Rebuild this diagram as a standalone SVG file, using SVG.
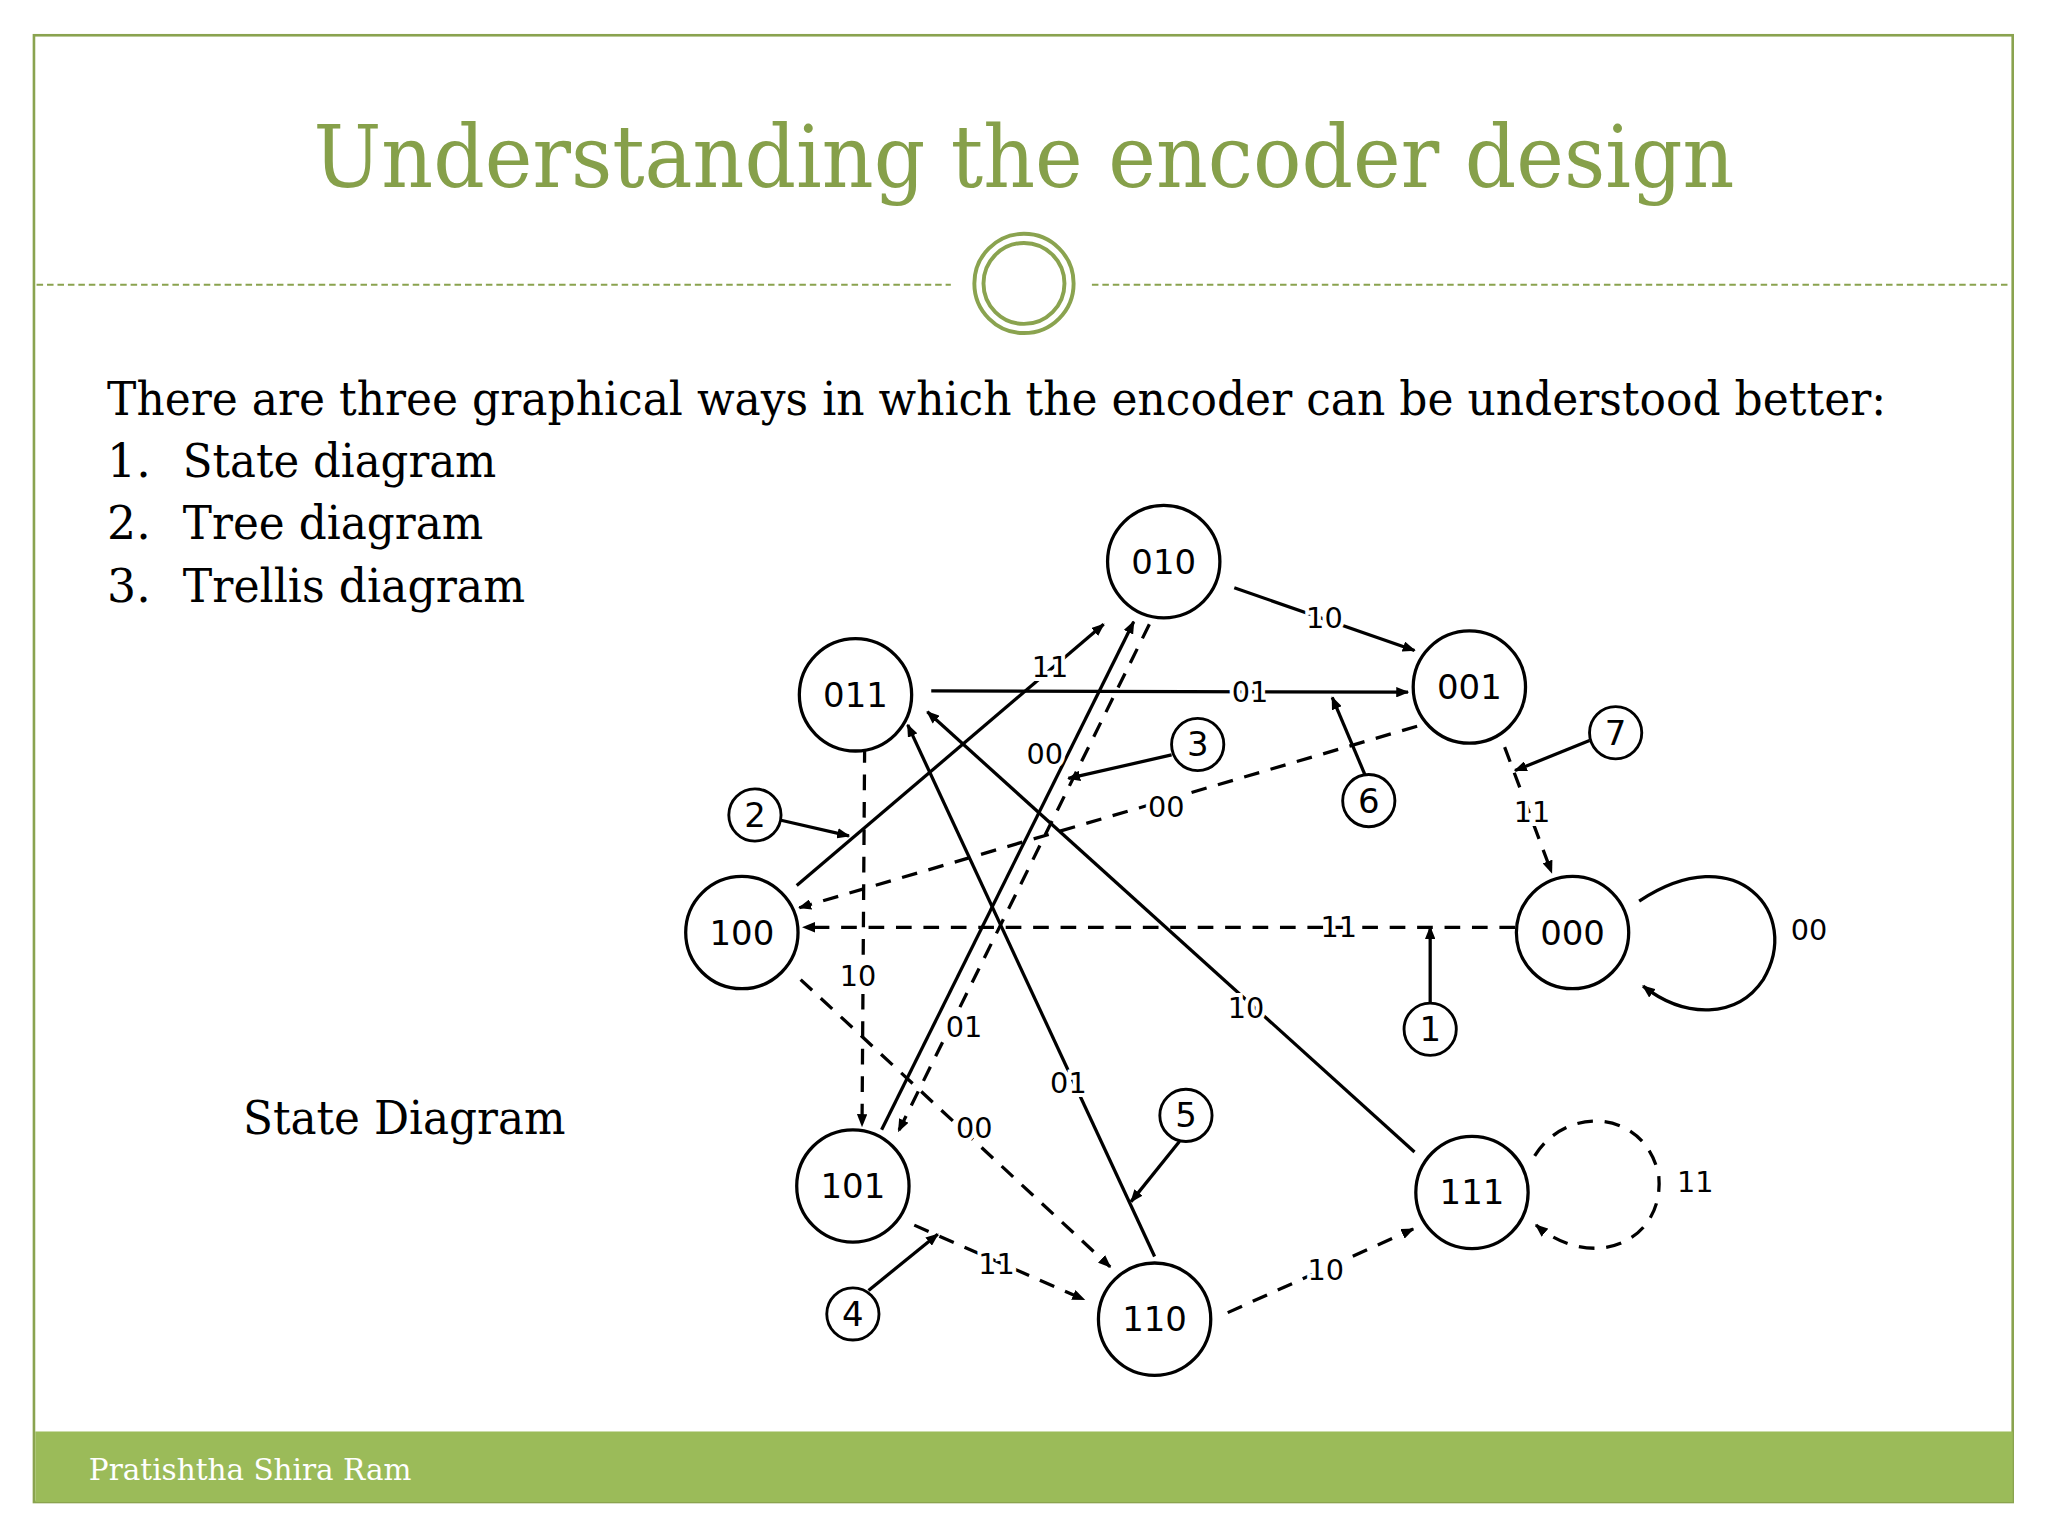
<svg xmlns="http://www.w3.org/2000/svg" width="2048" height="1536" viewBox="0 0 2048 1536">
<defs>
<marker id="ah" markerWidth="10" markerHeight="8" refX="9" refY="4" orient="auto" markerUnits="userSpaceOnUse"><path d="M0,0 L10,4 L0,8 Z" fill="#000"/></marker>
<style>
.n circle{fill:#fff;stroke:#000;stroke-width:2.5}
.n text{font-family:"DejaVu Sans",sans-serif;font-size:26px;text-anchor:middle;dominant-baseline:central}
.m circle{fill:#fff;stroke:#000;stroke-width:2.2}
.m text{font-family:"DejaVu Sans",sans-serif;font-size:26px;text-anchor:middle;dominant-baseline:central}
.e{stroke:#000;stroke-width:2.5;fill:none;marker-end:url(#ah)}
.d{stroke-dasharray:12 9}
.l{font-family:"DejaVu Sans",sans-serif;font-size:22px;text-anchor:middle;dominant-baseline:central;fill:#000;stroke:#fff;stroke-width:6;paint-order:stroke}
.s{font-family:"DejaVu Serif",serif;fill:#000;font-size:35px}
</style>
</defs>
<rect width="2048" height="1536" fill="#fff"/>
<g transform="scale(1.3061)">
<rect x="26" y="27" width="1515" height="1123" fill="none" stroke="#8aa34f" stroke-width="2"/>
<text x="240" y="143" textLength="1088" lengthAdjust="spacingAndGlyphs" font-family="DejaVu Serif,serif" font-size="66" fill="#86a04a">Understanding the encoder design</text>
<line x1="28" y1="218" x2="728" y2="218" stroke="#8aa34f" stroke-width="1.5" stroke-dasharray="5 3"/>
<line x1="836" y1="218" x2="1540" y2="218" stroke="#8aa34f" stroke-width="1.5" stroke-dasharray="5 3"/>
<circle cx="784" cy="217" r="38" fill="none" stroke="#8aa34f" stroke-width="3"/>
<circle cx="784" cy="217" r="31" fill="none" stroke="#8aa34f" stroke-width="3"/>
<text class="s" x="82" y="318" textLength="1362" lengthAdjust="spacingAndGlyphs">There are three graphical ways in which the encoder can be  understood better:</text>
<text class="s" x="82" y="365">1.</text><text class="s" x="140" y="365" textLength="240" lengthAdjust="spacingAndGlyphs">State diagram</text>
<text class="s" x="82" y="413">2.</text><text class="s" x="140" y="413" textLength="230" lengthAdjust="spacingAndGlyphs">Tree diagram</text>
<text class="s" x="82" y="461">3.</text><text class="s" x="140" y="461" textLength="262" lengthAdjust="spacingAndGlyphs">Trellis diagram</text>
<text class="s" x="186" y="868" textLength="247" lengthAdjust="spacingAndGlyphs">State Diagram</text>
<rect x="27" y="1096" width="1514" height="54" fill="#9bbb59"/>
<text x="68" y="1133" textLength="247" lengthAdjust="spacingAndGlyphs" font-family="DejaVu Serif,serif" font-size="23" fill="#fff">Pratishtha Shira Ram</text>

<g id="connectors">
<line class="e" x1="945" y1="450" x2="1083" y2="498"/>
<line class="e" x1="713" y1="529" x2="1078" y2="530"/>
<line class="e" x1="610" y1="678" x2="845" y2="478"/>
<line class="e" x1="675" y1="865" x2="868" y2="476"/>
<line class="e d" x1="880" y1="478" x2="688" y2="866"/>
<line class="e d" x1="1085" y1="556" x2="612" y2="695"/>
<line class="e d" x1="662" y1="572" x2="660" y2="862"/>
<line class="e d" x1="1160" y1="710" x2="615" y2="710"/>
<line class="e d" x1="1152" y1="572" x2="1188" y2="668"/>
<path class="e" d="M1255,690 C1330,640 1380,700 1350,750 C1330,780 1290,780 1258,755"/>
<line class="e" x1="884" y1="962" x2="695" y2="555"/>
<line class="e" x1="1083" y1="882" x2="710" y2="545"/>
<line class="e d" x1="613" y1="750" x2="850" y2="970"/>
<line class="e d" x1="700" y1="938" x2="830" y2="995"/>
<line class="e d" x1="940" y1="1005" x2="1082" y2="941"/>
<path class="e d" d="M1175,885 C1200,845 1260,850 1270,900 C1275,950 1220,975 1176,938"/>
<line class="e" x1="598" y1="628" x2="650" y2="640"/>
<line class="e" x1="897" y1="578" x2="818" y2="596"/>
<line class="e" x1="1045" y1="593" x2="1020" y2="534"/>
<line class="e" x1="1217" y1="567" x2="1160" y2="590"/>
<line class="e" x1="1095" y1="768" x2="1095" y2="710"/>
<line class="e" x1="903" y1="874" x2="866" y2="920"/>
<line class="e" x1="665" y1="988" x2="718" y2="945"/>
<text class="l" x="1014" y="473">10</text>
<text class="l" x="957" y="530">01</text>
<text class="l" x="804" y="511">11</text>
<text class="l" x="738" y="786">01</text>
<text class="l" x="800" y="577">00</text>
<text class="l" x="893" y="618">00</text>
<text class="l" x="657" y="747">10</text>
<text class="l" x="1025" y="710">11</text>
<text class="l" x="1173" y="622">11</text>
<text class="l" x="1385" y="712">00</text>
<text class="l" x="818" y="829">01</text>
<text class="l" x="954" y="772">10</text>
<text class="l" x="746" y="864">00</text>
<text class="l" x="763" y="968">11</text>
<text class="l" x="1015" y="972">10</text>
<text class="l" x="1298" y="905">11</text>
</g>

<g id="n010" class="n"><circle cx="891" cy="430" r="43"/><text x="891" y="430">010</text></g>
<g id="n001" class="n"><circle cx="1125" cy="526" r="43"/><text x="1125" y="526">001</text></g>
<g id="n011" class="n"><circle cx="655" cy="532" r="43"/><text x="655" y="532">011</text></g>
<g id="n100" class="n"><circle cx="568" cy="714" r="43"/><text x="568" y="714">100</text></g>
<g id="n000" class="n"><circle cx="1204" cy="714" r="43"/><text x="1204" y="714">000</text></g>
<g id="n101" class="n"><circle cx="653" cy="908" r="43"/><text x="653" y="908">101</text></g>
<g id="n111" class="n"><circle cx="1127" cy="913" r="43"/><text x="1127" y="913">111</text></g>
<g id="n110" class="n"><circle cx="884" cy="1010" r="43"/><text x="884" y="1010">110</text></g>
<g id="m1" class="m"><circle cx="1095" cy="788" r="20"/><text x="1095" y="788">1</text></g>
<g id="m2" class="m"><circle cx="578" cy="624" r="20"/><text x="578" y="624">2</text></g>
<g id="m3" class="m"><circle cx="917" cy="570" r="20"/><text x="917" y="570">3</text></g>
<g id="m4" class="m"><circle cx="653" cy="1006" r="20"/><text x="653" y="1006">4</text></g>
<g id="m5" class="m"><circle cx="908" cy="854" r="20"/><text x="908" y="854">5</text></g>
<g id="m6" class="m"><circle cx="1048" cy="613" r="20"/><text x="1048" y="613">6</text></g>
<g id="m7" class="m"><circle cx="1237" cy="561" r="20"/><text x="1237" y="561">7</text></g>
</g>
</svg>
